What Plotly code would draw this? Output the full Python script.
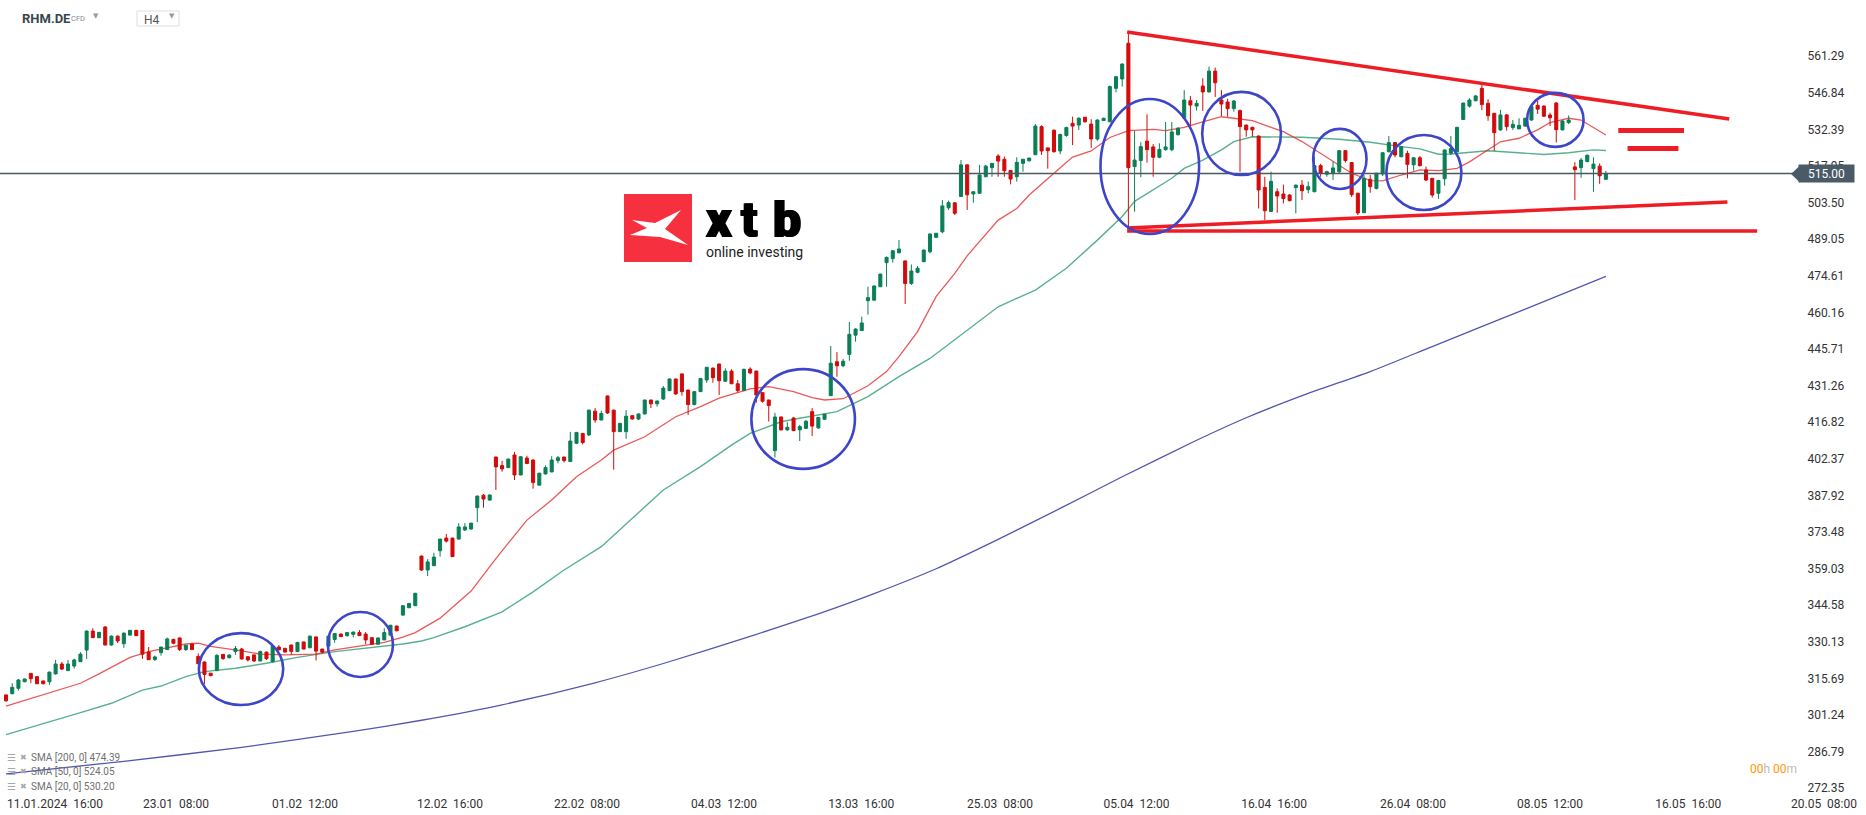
import plotly.graph_objects as go

# ---------------- data ----------------
opens = [309.2,309.7,311.8,314.4,317.7,316.4,314.7,314.4,317.5,321.4,318.8,320.6,322.3,326.9,334.4,331.8,336.0,328.9,332.4,329.4,
         332.8,334.7,334.6,326.1,323.2,325.9,327.1,331.1,331.7,327.1,329.3,324.4,322.2,317.8,318.8,325.2,323.9,326.3,327.3,324.3,
         325.0,322.6,326.1,322.3,328.1,327.6,328.9,326.3,330.1,327.8,332.1,327.3,328.5,331.1,333.2,332.6,333.1,333.8,333.2,331.8,
         329.2,330.9,332.8,336.4,340.7,343.6,344.4,364.0,358.5,360.2,366.1,371.1,371.1,370.7,374.3,374.7,383.1,388.0,386.1,403.1,
         399.7,398.9,403.9,396.0,402.7,401.9,392.0,396.4,397.2,401.7,403.1,401.3,408.5,412.4,411.8,421.2,417.7,427.2,421.6,413.1,
         413.1,419.4,418.1,420.1,425.6,424.1,426.0,429.3,433.9,435.9,429.5,423.8,428.9,433.5,438.2,439.8,433.0,437.0,432.0,429.3,
         437.8,437.0,428.5,425.6,405.6,418.9,413.8,418.5,413.8,414.4,421.0,414.6,418.0,427.3,440.7,439.1,443.6,451.2,453.0,464.8,
         465.0,470.3,479.8,481.4,483.7,480.5,471.6,476.0,480.2,484.1,489.8,492.0,501.5,503.4,505.9,518.4,506.9,507.2,513.7,517.3,
         521.9,520.6,516.2,513.7,519.0,520.0,522.4,533.5,525.1,532.1,523.9,530.0,534.8,534.1,537.2,534.5,528.6,535.9,535.4,548.6,
         552.3,566.4,517.7,520.1,527.8,525.5,521.4,524.4,524.4,530.3,536.9,543.7,541.6,549.5,547.2,555.4,544.0,543.2,540.6,539.8,
         534.1,533.2,529.8,509.5,500.0,507.8,506.9,506.5,509.4,510.4,508.6,507.8,518.1,514.7,515.1,515.7,524.0,519.3,507.2,499.5,
         512.7,509.1,514.8,523.6,527.2,521.6,522.9,518.4,521.2,516.4,513.1,507.2,512.95,523.0,523.6,536.3,541.6,543.7,548.6,542.7,
         538.7,532.2,538.1,533.1,532.6,533.7,536.1,541.9,541.6,538.1,542.8,532.2,535.1,517.6,517.3,519.7,516.9,517.9,512.7]
highs = [309.3,313.8,315.5,315.6,317.8,316.7,314.9,318.4,323.0,322.2,323.0,323.5,326.1,334.7,335.5,334.0,336.4,332.7,332.7,333.8,
         334.8,334.8,334.8,328.1,324.7,328.2,331.8,331.4,331.8,328.9,329.8,325.6,322.5,317.8,325.3,325.3,325.3,328.5,327.8,324.4,
         325.1,326.7,326.3,328.8,328.9,327.7,329.0,330.2,330.2,332.6,332.2,327.4,332.6,333.5,333.5,333.9,334.2,334.8,334.0,331.9,
         331.8,335.5,336.8,336.5,344.7,345.5,349.5,364.2,362.8,365.3,370.8,372.7,371.2,377.0,377.0,377.1,387.8,388.5,388.3,403.2,
         401.6,402.4,405.1,403.5,403.6,402.2,396.9,399.8,403.4,403.5,403.2,413.0,413.0,412.6,421.8,422.4,421.4,427.3,421.8,416.5,
         421.6,419.7,420.2,425.7,425.7,425.4,431.1,434.1,434.0,436.0,429.7,429.0,434.3,438.6,438.4,439.9,438.1,437.7,433.5,438.0,
         438.5,437.2,428.6,425.7,420.5,419.1,416.8,418.8,415.8,417.7,422.4,418.9,420.1,446.9,444.5,441.8,456.4,453.9,458.5,470.3,
         470.8,475.4,482.2,484.8,488.7,480.6,479.1,478.5,484.9,491.4,491.5,504.5,504.3,503.6,520.3,518.6,507.9,518.4,518.4,519.1,
         522.6,521.7,516.3,521.4,520.7,521.2,534.5,534.0,525.2,532.3,530.7,533.5,537.4,537.2,537.3,536.4,536.4,537.0,549.7,553.4,
         558.4,570.7,531.8,527.3,538.4,526.6,526.9,535.3,535.3,533.2,547.9,545.6,544.0,552.6,557.2,556.8,547.9,544.5,544.0,540.3,
         534.3,533.5,529.9,513.7,515.7,509.1,510.6,506.8,510.6,512.4,511.8,521.6,518.8,516.1,519.7,524.2,524.2,519.4,507.4,514.4,
         514.4,515.2,523.4,529.8,527.3,525.9,524.0,521.3,521.9,517.7,513.2,512.5,524.4,529.8,533.4,542.9,544.7,546.0,549.9,544.3,
         539.0,540.1,538.5,536.1,536.8,537.0,541.6,543.7,541.9,539.0,543.2,536.0,537.9,519.5,521.1,522.5,521.4,519.0,516.0]
lows = [306.5,309.4,310.9,314.2,313.8,313.5,313.4,313.2,317.2,319.0,318.6,319.6,322.2,323.4,331.7,331.6,328.8,328.6,329.7,327.8,
        332.6,332.4,323.4,323.0,322.6,324.7,326.9,329.2,326.5,326.5,326.9,321.3,313.5,316.6,318.6,323.0,323.6,325.0,323.2,322.4,
        322.2,322.5,323.0,322.0,326.7,326.0,325.1,326.1,327.2,327.7,322.8,325.7,328.5,329.8,332.1,332.2,331.9,332.5,329.2,329.1,
        329.0,330.9,332.6,334.4,340.5,343.5,344.3,358.2,356.1,360.1,363.8,369.3,363.6,370.6,373.9,374.4,377.4,383.1,385.9,390.1,
        397.3,398.8,394.0,395.9,400.4,390.6,391.9,396.3,397.1,400.6,400.9,401.1,408.2,408.1,411.4,416.6,417.6,420.1,398.1,413.0,
        410.3,417.9,417.7,419.9,422.4,423.0,425.6,429.1,427.6,427.3,419.7,423.5,428.8,432.4,432.4,427.6,432.8,431.9,428.5,429.3,
        435.7,424.5,424.6,417.1,402.9,413.6,413.5,413.4,409.4,414.1,411.4,414.2,417.8,427.2,434.8,438.5,441.1,448.6,453.0,459.3,
        464.8,470.3,470.3,479.8,483.5,463.5,471.0,475.6,480.0,483.5,489.5,491.4,500.6,498.6,505.9,500.6,503.5,506.9,513.7,513.7,
        513.7,513.7,510.7,511.8,515.7,519.7,522.3,522.3,516.9,523.2,522.6,529.5,526.2,532.2,535.1,525.1,527.9,535.7,535.4,547.0,
        549.3,494.0,499.9,513.5,519.3,513.7,521.0,524.0,523.8,530.0,536.9,533.7,539.8,539.7,546.9,545.2,537.7,537.4,539.4,515.7,
        529.5,529.5,501.2,496.6,499.9,499.5,503.2,503.9,499.3,504.5,507.2,507.6,513.7,513.7,512.4,514.8,519.3,505.7,498.6,499.4,
        507.4,508.7,514.0,523.3,521.4,521.4,513.1,516.1,517.7,512.0,505.5,505.0,510.2,522.3,523.4,536.1,541.0,543.5,540.0,535.8,
        523.9,531.8,531.9,532.2,532.6,533.5,535.8,538.5,537.3,533.7,527.2,532.0,534.5,504.5,513.3,519.4,507.8,510.9,512.4]
closes = [306.9,312.2,315.1,315.5,315.6,313.6,313.6,318.2,321.4,319.4,321.4,323.0,325.3,334.4,331.8,333.9,328.9,332.4,330.5,333.6,
          334.7,332.6,325.3,323.1,324.2,328.1,331.3,329.6,327.1,328.8,327.1,321.5,317.3,316.8,324.8,323.6,324.9,327.5,323.4,323.0,
          322.6,326.3,323.5,328.4,327.0,326.1,326.4,329.9,327.3,332.4,326.5,326.1,332.4,333.4,332.2,333.8,334.0,332.6,330.9,329.2,
          331.7,333.8,336.7,334.5,344.4,345.3,349.3,358.5,361.7,363.6,370.7,369.9,363.8,375.5,375.5,377.0,387.7,386.5,388.1,399.2,
          398.4,402.3,396.0,403.2,400.5,393.0,396.7,398.9,401.9,402.8,401.7,409.4,412.8,408.8,421.6,417.7,420.3,420.5,413.1,416.4,
          419.2,418.1,420.1,425.6,424.1,425.2,430.3,433.9,428.0,428.9,423.8,428.9,434.1,438.5,434.4,433.2,437.0,432.0,429.3,437.7,
          436.3,427.6,425.1,423.4,418.9,413.8,414.8,413.5,415.1,417.2,415.3,418.7,420.0,440.1,439.1,440.9,451.5,453.6,456.0,466.0,
          470.6,475.3,481.9,484.5,485.2,471.6,476.5,477.6,484.8,491.1,491.4,502.2,503.5,499.3,518.4,506.6,507.8,514.4,517.9,519.0,
          519.9,516.1,512.8,519.4,520.6,521.1,533.7,523.9,524.0,523.6,530.4,533.1,533.7,536.8,535.4,528.6,536.1,536.8,549.3,553.2,
          558.2,517.3,520.3,525.6,524.4,521.4,524.5,525.5,531.4,532.9,544.0,542.0,542.7,547.2,555.4,550.8,542.4,540.6,543.6,533.5,
          532.2,532.2,508.5,500.3,511.9,506.1,505.1,504.3,510.4,508.2,509.8,518.1,515.1,515.7,517.2,524.0,520.1,506.6,499.4,513.1,
          509.8,515.1,523.2,527.2,522.3,525.6,518.6,521.2,518.1,512.4,506.5,512.2,524.3,524.9,533.2,542.8,544.0,545.6,542.2,537.8,
          531.1,538.1,533.5,534.4,534.0,536.8,541.4,540.4,537.6,537.0,532.3,535.7,536.1,516.5,520.3,522.2,518.7,514.1,515.0]

sma20_idx = [0,5,12,15,20,23,29,31,33,38,41,45,50,53,58,61,64,66,70,75,79,84,88,92,96,98,103,108,112,115,120,123,127,130,132,
             135,139,142,144,147,150,153,155,160,163,165,169,172,175,178,181,185,187,190,193,196,198,201,204,206,209,212,214,217,
             220,222,225,228,231,234,236,239,241,244,247,249,252,254,256,258]
sma20_val = [304.8,308.5,313.8,317.5,324.0,326.3,329.3,329.6,328.4,326.6,325.3,325.0,325.3,327.0,328.9,329.9,332.0,333.8,339.5,
             350.2,363.0,378.2,386.1,395.3,401.9,405.8,411.1,419.0,423.0,426.3,430.0,430.9,428.9,426.5,425.6,426.1,431.2,436.8,
             442.7,452.6,466.5,475.6,482.5,496.6,501.2,506.5,515.1,521.5,523.9,529.2,531.9,532.4,531.9,533.2,535.4,537.4,536.8,
             535.9,533.2,531.5,527.6,522.9,519.5,515.1,512.2,512.1,514.4,516.4,516.1,517.0,519.6,524.3,527.5,528.9,532.2,535.1,
             536.8,536.1,533.2,530.2]

sma50_idx = [0,3,12,17,22,25,29,32,37,42,47,53,58,62,64,67,69,74,80,85,90,96,101,106,112,117,120,125,128,131,134,139,144,149,
             155,160,166,171,176,180,182,185,188,190,193,196,198,201,204,209,215,220,225,228,231,233,239,244,248,252,256,258]
sma50_val = [293.5,295.6,302.2,305.9,311.1,312.7,316.4,318.4,319.7,321.7,324.0,326.3,327.6,328.5,329.3,330.5,331.8,336.1,342.0,
             349.9,358.5,367.7,378.9,390.1,399.3,407.8,412.4,417.0,418.4,419.6,421.0,426.9,434.8,442.0,453.2,462.4,469.0,477.6,
             488.7,498.0,504.0,508.7,513.1,517.0,520.3,524.3,527.6,529.5,529.5,529.3,528.5,527.3,525.6,524.7,522.6,522.7,524.0,
             523.3,522.5,523.2,524.3,524.05]

sma200_idx = [0,19,38,56,67,80,95,106,120,131,140,150,160,170,180,192,200,210,220,230,245,258]
sma200_val = [278.0,283.0,288.5,294.8,299.2,305.3,314.0,321.6,332.3,341.2,349.2,359.0,370.6,382.8,395.3,409.7,418.6,428.2,
              436.8,446.7,461.5,474.39]

date_labels = ["11.01.2024  16:00", "23.01  08:00", "01.02  12:00", "12.02  16:00", "22.02  08:00", "04.03  12:00",
               "13.03  16:00", "25.03  08:00", "05.04  12:00", "16.04  16:00", "26.04  08:00", "08.05  12:00", "16.05  16:00"]
date_label_pos = [7.9, 27.4, 48.2, 71.6, 93.7, 115.8, 137.9, 160.3, 182.3, 204.5, 226.9, 249.0, 271.3]
last_date_label = "20.05  08:00"

price_ticks = [272.35, 286.79, 301.24, 315.69, 330.13, 344.58, 359.03, 373.48, 387.92, 402.37, 416.82,
               431.26, 445.71, 460.16, 474.61, 489.05, 503.50, 517.95, 532.39, 546.84, 561.29]
last_price = 515.00
sma_legend = ["SMA [200, 0] 474.39", "SMA [50, 0] 524.05", "SMA [20, 0] 530.20"]

# drawn annotations (data units: candle index, price)
circles = [(31.1, 44.7, 305.2, 333.6), (51.9, 62.4, 316.3, 341.9), (120.2, 136.9, 398.4, 437.8),
           (176.5, 192.4, 491.1, 544.4), (192.9, 205.6, 514.4, 547.2), (210.8, 219.4, 508.9, 532.6),
           (222.6, 234.7, 500.6, 530.2), (245.3, 254.4, 525.5, 546.8)]
trend_lines = [((180.8, 570.8), (277.9, 536.5)), ((180.8, 493.5), (277.6, 503.7)), ((180.8, 492.3), (282.4, 492.3))]
level_bars = [((260.0, 532.0), (270.6, 532.0)), ((261.5, 524.9), (269.7, 524.9))]

# ---------------- figure ----------------
W, H = 1866, 815
ML, MR, MT, MB = 0, 71, 0, 20
PW, PH = W - ML - MR, H - MT - MB


def px(x):
    return (x - ML) / PW


def py(y):
    return 1 - (y - MT) / PH


XR = [-0.97, 288.5]
YR = [269.7, 583.47]
GREEN = "#0a7f55"
RED = "#d20a0a"
FONT = "Roboto"

fig = go.Figure()
fig.add_trace(go.Scatter(x=sma200_idx, y=sma200_val, mode="lines", line=dict(color="#5257ae", width=1.3, shape="spline",
                         smoothing=0.6), hoverinfo="skip", showlegend=False))
fig.add_trace(go.Scatter(x=sma50_idx, y=sma50_val, mode="lines", line=dict(color="rgba(34,150,104,0.75)", width=1.4),
                         hoverinfo="skip", showlegend=False))
fig.add_trace(go.Scatter(x=sma20_idx, y=sma20_val, mode="lines", line=dict(color="rgba(228,48,48,0.8)", width=1.3),
                         hoverinfo="skip", showlegend=False))
fig.add_trace(go.Candlestick(x=list(range(len(opens))), open=opens, high=highs, low=lows, close=closes,
                             xaxis="x2", yaxis="y2", whiskerwidth=0,
                             increasing=dict(line=dict(color=GREEN, width=1), fillcolor=GREEN),
                             decreasing=dict(line=dict(color=RED, width=1), fillcolor=RED),
                             showlegend=False))

shapes = []
# current price line
shapes.append(dict(type="line", xref="paper", yref="y", x0=0, x1=px(1795), y0=last_price, y1=last_price,
                   line=dict(color="#4b5763", width=1.3)))
# trend lines
for (a, b) in trend_lines:
    shapes.append(dict(type="line", xref="x", yref="y", x0=a[0], y0=a[1], x1=b[0], y1=b[1],
                       line=dict(color="#ee1d25", width=3.5)))
for (a, b) in level_bars:
    shapes.append(dict(type="line", xref="x", yref="y", x0=a[0], y0=a[1], x1=b[0], y1=b[1],
                       line=dict(color="#ee1d25", width=5)))
# circles
for (x0, x1, y0, y1) in circles:
    shapes.append(dict(type="circle", xref="x", yref="y", x0=x0, x1=x1, y0=y0, y1=y1,
                       line=dict(color="#3d46c9", width=2.6)))
# price box arrow
shapes.append(dict(type="path", xref="paper", yref="paper",
                   path=f"M {px(1791)},{py(174)} L {px(1800)},{py(165.5)} L {px(1800)},{py(182.5)} Z",
                   fillcolor="#4a5a67", line=dict(width=0)))
# logo
shapes.append(dict(type="rect", xref="paper", yref="paper", x0=px(624), x1=px(692), y0=py(262), y1=py(194),
                   fillcolor="#f6303e", line=dict(width=0), layer="above"))
xpts = [(632, 220), (655, 223), (681, 210), (665, 229), (688, 245), (660, 237), (630, 235), (647, 228)]
path = "M " + " L ".join(f"{px(a)},{py(b)}" for a, b in xpts) + " Z"
shapes.append(dict(type="path", xref="paper", yref="paper", path=path, fillcolor="white", line=dict(width=0)))
# H4 box
shapes.append(dict(type="rect", xref="paper", yref="paper", x0=px(137), x1=px(179), y0=py(26), y1=py(11),
                   line=dict(color="#dedede", width=1), fillcolor="rgba(0,0,0,0)"))

ann = []
ann.append(dict(text="<b>RHM.DE</b>", x=px(20), y=py(19), xref="paper", yref="paper", xanchor="left", yanchor="middle",
                showarrow=False, font=dict(family=FONT, size=13, color="#37474f")))
ann.append(dict(text="CFD", x=px(69), y=py(19), xref="paper", yref="paper", xanchor="left", yanchor="middle",
                showarrow=False, font=dict(family=FONT, size=7.5, color="#8a8a8a")))
ann.append(dict(text="▼", x=px(96), y=py(16), xref="paper", yref="paper", xanchor="center", yanchor="middle",
                showarrow=False, font=dict(family="DejaVu Sans", size=7, color="#9a9a9a")))
ann.append(dict(text="H4", x=px(142), y=py(20), xref="paper", yref="paper", xanchor="left", yanchor="middle",
                showarrow=False, font=dict(family=FONT, size=12, color="#555555")))
ann.append(dict(text="▼", x=px(171.5), y=py(16), xref="paper", yref="paper", xanchor="center", yanchor="middle",
                showarrow=False, font=dict(family="DejaVu Sans", size=7, color="#9a9a9a")))
# logo text (heavy weight, drawn with slight offsets to thicken strokes)
for ch, cx in (("x", 719), ("t", 749), ("b", 787)):
    for dx in (-0.8, 0.0, 0.8):
        ann.append(dict(text=ch, x=px(cx + dx), y=py(220), xref="paper", yref="paper", xanchor="center",
                        yanchor="middle", showarrow=False,
                        font=dict(family="Roboto", size=50, color="#000000", weight=900)))
ann.append(dict(text="online investing", x=px(704), y=py(252), xref="paper", yref="paper", xanchor="left",
                yanchor="middle", showarrow=False, font=dict(family=FONT, size=14, color="#222222")))
# price box
ann.append(dict(text=f"{last_price:.2f}", x=px(1826.5), y=last_price, xref="paper", yref="y", xanchor="center",
                yanchor="middle", showarrow=False, bgcolor="#4a5a67", width=53, height=15, borderpad=1,
                font=dict(family=FONT, size=12, color="#ffffff")))
# countdown
ann.append(dict(text="<span style='color:#ff9800'>00</span><span style='color:#bdbdbd'>h </span>"
                     "<span style='color:#ff9800'>00</span><span style='color:#bdbdbd'>m</span>",
                x=px(1799), y=py(769), xref="paper", yref="paper", xanchor="right", yanchor="middle",
                showarrow=False, font=dict(family=FONT, size=12)))
# last date label
ann.append(dict(text=last_date_label, x=px(1824), y=py(804), xref="paper", yref="paper", xanchor="center",
                yanchor="middle", showarrow=False, font=dict(family=FONT, size=12, color="#333333")))
# SMA legend
for k, txt in enumerate(sma_legend):
    yy = 757 + 14.5 * k
    ann.append(dict(text="☰", x=px(5), y=py(yy), xref="paper", yref="paper", xanchor="left", yanchor="middle",
                    showarrow=False, font=dict(family="DejaVu Sans", size=10, color="#a8a8a8")))
    ann.append(dict(text="✖", x=px(18), y=py(yy), xref="paper", yref="paper", xanchor="left", yanchor="middle",
                    showarrow=False, font=dict(family="DejaVu Sans", size=8, color="#a8a8a8")))
    ann.append(dict(text=txt, x=px(29), y=py(yy), xref="paper", yref="paper", xanchor="left", yanchor="middle",
                    showarrow=False, font=dict(family=FONT, size=10, color="#707070")))

fig.update_layout(
    width=W, height=H, margin=dict(l=ML, r=MR, t=MT, b=MB, autoexpand=False),
    paper_bgcolor="white", plot_bgcolor="white", showlegend=False,
    xaxis=dict(range=XR, tickvals=date_label_pos, ticktext=date_labels, showgrid=False, zeroline=False,
               showline=False, ticks="", tickfont=dict(family=FONT, size=12, color="#333333"),
               rangeslider=dict(visible=False), automargin=False),
    xaxis2=dict(range=XR, overlaying="x", visible=False, rangeslider=dict(visible=False)),
    yaxis=dict(range=YR, side="right", tickvals=price_ticks, ticktext=[f"{v:.2f}" for v in price_ticks],
               showgrid=False, zeroline=False, showline=False, ticks="outside", ticklen=9,
               tickcolor="rgba(0,0,0,0)", tickfont=dict(family=FONT, size=12, color="#333333"), automargin=False),
    yaxis2=dict(range=YR, overlaying="y", visible=False),
    shapes=shapes, annotations=ann,
)
fig.write_html("out.html", config={"displayModeBar": False},
               post_script="document.body.style.margin='0';document.body.style.overflow='hidden';")
